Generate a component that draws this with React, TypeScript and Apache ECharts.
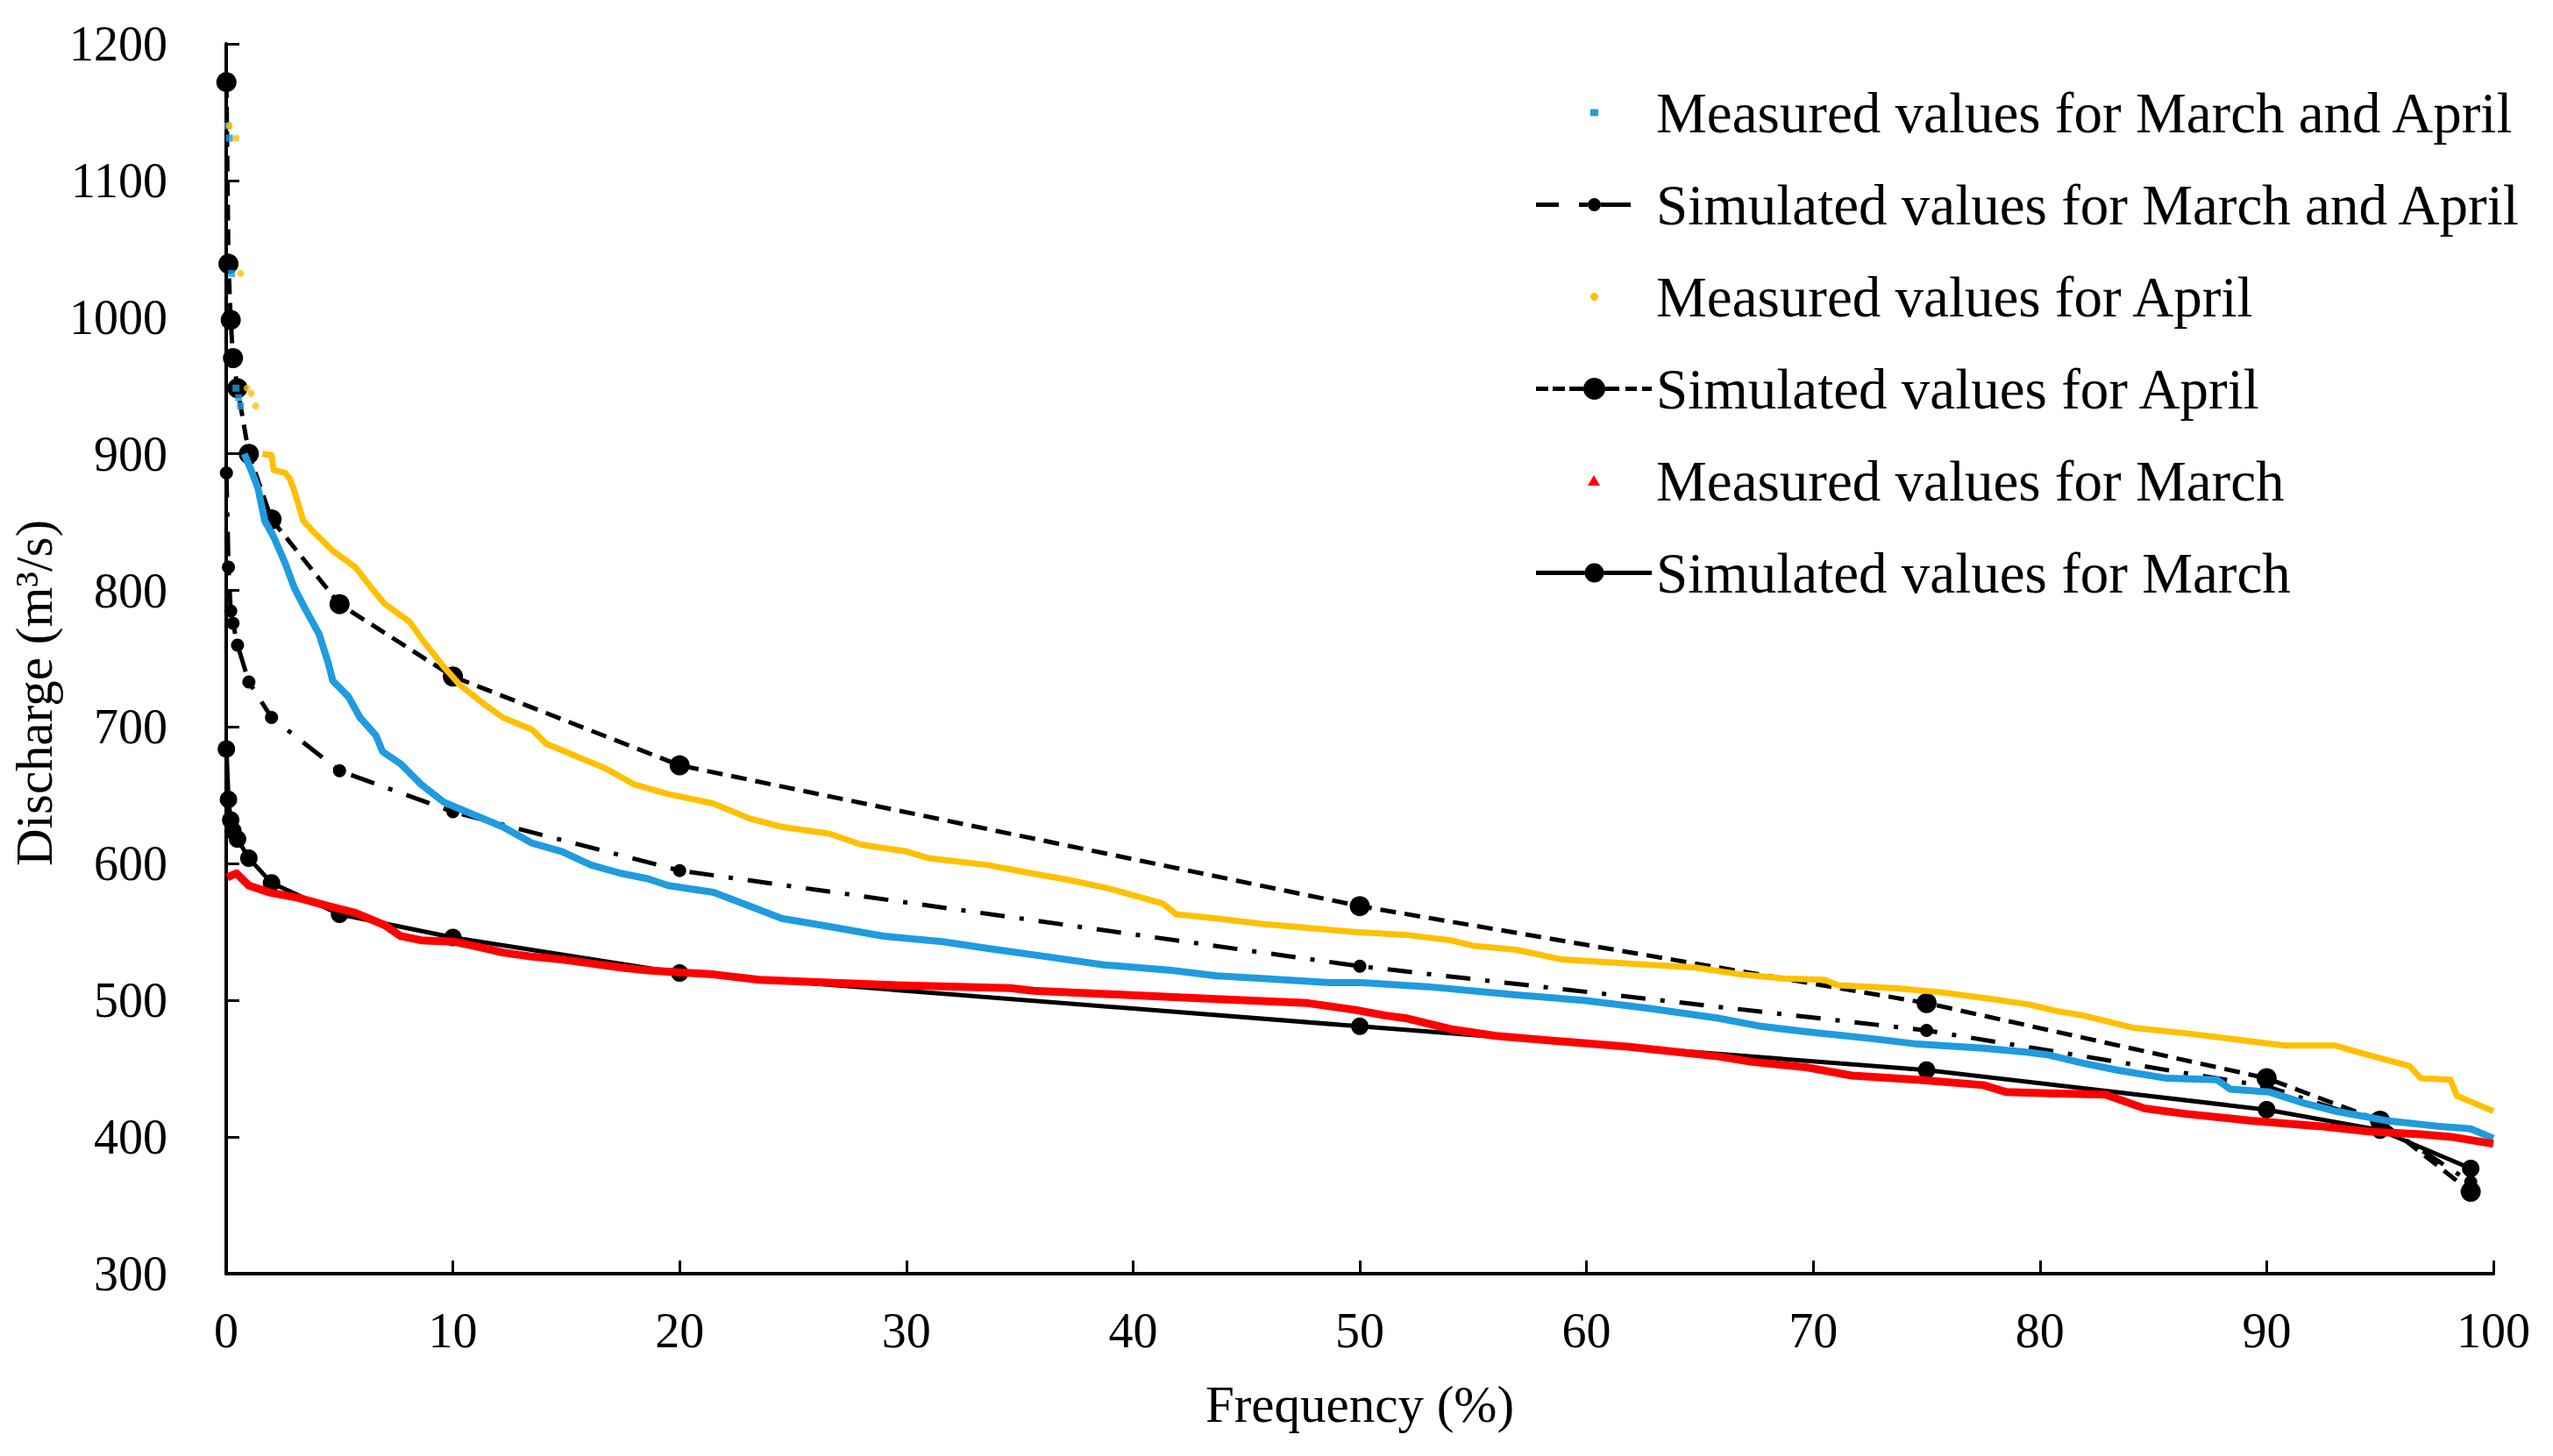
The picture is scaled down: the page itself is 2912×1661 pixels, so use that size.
import React, { useEffect, useRef } from "react";
import * as echarts from "echarts";

const FONT = "'Liberation Serif', 'Times New Roman', serif";

const seriesNames = [
  "Measured values for March and April",
  "Simulated values for March and April",
  "Measured values for April",
  "Simulated values for April",
  "Measured values for March",
  "Simulated values for March",
];

// Simulated flow duration curves (frequency %, discharge m3/s)
const simFrequency = [0.01, 0.1, 0.2, 0.3, 0.5, 1, 2, 5, 10, 20, 50, 75, 90, 95, 99];
const simMarchApril = [886, 817, 785, 776, 760, 733, 707, 668, 638, 595, 525, 478, 437, 410, 367];
const simApril = [1172, 1039, 998, 970, 948, 900, 852, 790, 737, 672, 569, 498, 443, 412, 360];
const simMarch = [684, 647, 632, 624, 618, 604, 586, 563, 546, 520, 481, 449, 420, 405, 377];

const measuredMarchAprilSparse: [number, number][] = [
  [0.08, 1140], [0.14, 1131], [0.24, 1032], [0.43, 948], [0.55, 941], [0.63, 935],
];
const measuredMarchApril: [number, number][] = [
  [0.8, 900], [1.1, 888], [1.4, 875], [1.7, 851], [2.1, 839], [2.6, 820], [3.0, 802],
  [3.5, 786], [4.1, 768], [4.5, 747], [4.7, 734], [5.4, 722], [5.9, 707], [6.6, 694],
  [6.9, 682], [7.7, 673], [8.6, 658], [9.6, 645], [10.9, 636], [12.2, 627], [13.5, 615],
  [14.8, 609], [16.1, 599], [17.4, 593], [18.6, 589], [19.5, 584], [21.5, 579], [23.1, 569],
  [24.5, 560], [26.6, 554], [29.0, 547], [31.6, 543], [33.6, 538], [36.6, 531], [38.7, 526],
  [41.7, 522], [43.7, 518], [45.7, 516], [48.7, 513], [50.1, 513], [53.0, 510], [56.9, 504],
  [59.9, 500], [62.8, 494], [65.8, 487], [67.7, 481], [69.7, 477], [72.6, 472], [74.6, 468],
  [77.5, 465], [79.5, 462], [80.4, 460], [81.9, 454], [83.4, 449], [85.6, 443], [87.8, 442],
  [88.4, 435], [90.1, 433], [91.6, 425], [93.0, 419], [95.3, 412], [97.5, 408], [99.0, 406],
  [100, 399],
];
const measuredAprilSparse: [number, number][] = [
  [0.14, 1140], [0.43, 1131], [0.63, 1032], [0.92, 948], [1.1, 944], [1.3, 935],
];
const measuredApril: [number, number][] = [
  [1.6, 900], [2.0, 899], [2.1, 888], [2.6, 886], [2.8, 882], [3.0, 873], [3.4, 851],
  [3.9, 842], [4.7, 829], [5.7, 817], [6.4, 802], [7.0, 790], [8.1, 777], [8.6, 765],
  [9.6, 744], [10.3, 731], [11.2, 719], [12.2, 707], [13.5, 698], [14.1, 688], [15.4, 679],
  [16.7, 670], [18.0, 658], [19.5, 651], [21.5, 644], [23.1, 633], [24.5, 627], [26.6, 622],
  [28.0, 614], [30.0, 609], [31.0, 604], [33.6, 599], [35.2, 594], [37.2, 588], [38.9, 582],
  [41.3, 571], [41.9, 563], [43.7, 560], [45.7, 556], [47.7, 553], [49.8, 550], [52.0, 548],
  [54.0, 544], [55.0, 540], [56.9, 537], [58.9, 530], [61.9, 527], [64.8, 524], [66.8, 519],
  [68.7, 516], [70.5, 515], [71.1, 511], [73.6, 509], [75.6, 506], [77.9, 501], [79.5, 497],
  [80.8, 492], [81.9, 489], [84.1, 480], [86.4, 476], [89.3, 470], [90.8, 467], [93.0, 467],
  [94.5, 460], [96.3, 452], [96.8, 443], [98.1, 442], [98.4, 430], [99.7, 421], [100, 419],
];
const measuredMarch: [number, number][] = [
  [0.05, 590], [0.45, 593], [1.0, 584], [1.9, 579], [3.2, 575], [4.5, 569], [5.7, 564],
  [7.0, 555], [7.7, 547], [8.6, 544], [10, 543], [10.9, 540], [12.2, 535], [13.5, 532],
  [14.8, 530], [16.1, 527], [17.4, 524], [18.6, 522], [19.5, 521], [21.5, 519], [23.5, 515],
  [26.6, 513], [29.6, 511], [34.6, 509], [35.6, 507], [39.7, 504], [43.7, 501], [47.7, 498],
  [49.8, 493], [51.1, 489], [52.0, 487], [54.0, 479], [56.0, 474], [58.9, 470], [61.9, 466],
  [65.8, 459], [67.3, 455], [69.7, 451], [71.7, 445], [74.6, 442], [77.5, 438], [78.5, 433],
  [80.4, 432], [82.9, 431], [84.6, 421], [86.4, 417], [89.3, 412], [92.3, 408], [94.5, 404],
  [96.8, 402], [98.2, 400], [100, 395],
];

const BLUE = "#1F9BDE";
const YELLOW = "#FFC000";
const RED = "#FF0000";
const BLACK = "#000000";

// Legend icons (132 x 30 box)
const BOX = "M0,0M132,30";
const circ = (cx: number, r: number) =>
  `M${cx - r},15a${r} ${r} 0 1 0 ${2 * r} 0a${r} ${r} 0 1 0 ${-2 * r} 0z`;
const bar = (x0: number, x1: number) => `M${x0},12.5H${x1}V17.5H${x0}z`;
const iconBlue = `path://${BOX}M62,11h9v8h-9z`;
const iconYellow = `path://${BOX}${circ(66.5, 4.5)}`;
const iconRed = `path://${BOX}M66,8.5L73,20.5H59Z`;
const iconSimMA = `path://${BOX}${bar(0, 26)}${bar(49, 59)}${circ(66.5, 7.5)}${bar(74, 108)}`;
const iconSimApril = `path://${BOX}${bar(0, 14)}${bar(19, 33)}${bar(38, 54)}${circ(66.5, 12.5)}${bar(79, 95)}${bar(102, 115)}${bar(121, 132)}`;
const iconSimMarch = `path://${BOX}${bar(0, 55.5)}${circ(66.5, 11)}${bar(77.5, 132)}`;

const zip = (xs: number[], ys: number[]) => xs.map((x, i) => [x, ys[i]]);

function buildOption(): any {
  return {
    animation: false,
    backgroundColor: "#ffffff",
    grid: { left: 258, right: 68, top: 50, bottom: 208, containLabel: false },
    legend: {
      orient: "vertical",
      left: 1747,
      top: 91,
      itemWidth: 132,
      itemHeight: 30,
      itemGap: 40,
      selectedMode: false,
      textStyle: { fontFamily: FONT, fontSize: 65, color: BLACK },
      data: [
        { name: seriesNames[0], icon: iconBlue },
        { name: seriesNames[1], icon: iconSimMA },
        { name: seriesNames[2], icon: iconYellow },
        { name: seriesNames[3], icon: iconSimApril },
        { name: seriesNames[4], icon: iconRed },
        { name: seriesNames[5], icon: iconSimMarch },
      ],
    },
    xAxis: {
      type: "value",
      min: 0,
      max: 100,
      interval: 10,
      name: "Frequency (%)",
      nameLocation: "middle",
      nameGap: 119,
      nameTextStyle: { fontFamily: FONT, fontSize: 59, color: BLACK },
      axisLine: { show: true, lineStyle: { color: BLACK, width: 4 } },
      axisTick: { show: true, inside: true, length: 15, lineStyle: { color: BLACK, width: 3 } },
      axisLabel: { margin: 37, fontFamily: FONT, fontSize: 56, color: BLACK },
      splitLine: { show: false },
    },
    yAxis: {
      type: "value",
      min: 300,
      max: 1200,
      interval: 100,
      name: "Discharge (m³/s)",
      nameLocation: "middle",
      nameGap: 170,
      nameTextStyle: { fontFamily: FONT, fontSize: 59, color: BLACK, padding: [0, 78, 0, 0] },
      axisLine: { show: true, lineStyle: { color: BLACK, width: 4 } },
      axisTick: { show: true, inside: true, length: 15, lineStyle: { color: BLACK, width: 3 } },
      axisLabel: {
        margin: 67,
        fontFamily: FONT,
        fontSize: 56,
        color: BLACK,
        formatter: (v: number) => String(v),
      },
      splitLine: { show: false },
    },
    series: [
      {
        name: seriesNames[0],
        type: "line",
        data: measuredMarchApril,
        showSymbol: false,
        symbol: "none",
        itemStyle: { color: BLUE },
        lineStyle: { color: BLUE, width: 8, join: "round" },
        z: 3,
      },
      {
        name: seriesNames[0],
        type: "scatter",
        data: measuredMarchAprilSparse,
        symbol: "rect",
        symbolSize: 8,
        itemStyle: { color: BLUE },
        z: 3,
      },
      {
        name: seriesNames[1],
        type: "line",
        data: zip(simFrequency, simMarchApril),
        symbol: "circle",
        symbolSize: 15,
        itemStyle: { color: BLACK },
        lineStyle: { color: BLACK, width: 5, type: [28, 17, 5, 17] },
        z: 2,
      },
      {
        name: seriesNames[2],
        type: "line",
        data: measuredApril,
        showSymbol: false,
        symbol: "none",
        itemStyle: { color: YELLOW },
        lineStyle: { color: YELLOW, width: 7, join: "round" },
        z: 3,
      },
      {
        name: seriesNames[2],
        type: "scatter",
        data: measuredAprilSparse,
        symbol: "circle",
        symbolSize: 8,
        itemStyle: { color: YELLOW },
        z: 3,
      },
      {
        name: seriesNames[3],
        type: "line",
        data: zip(simFrequency, simApril),
        symbol: "circle",
        symbolSize: 23,
        itemStyle: { color: BLACK },
        lineStyle: { color: BLACK, width: 5, type: [18, 10] },
        z: 2,
      },
      {
        name: seriesNames[4],
        type: "line",
        data: measuredMarch,
        showSymbol: false,
        symbol: "none",
        itemStyle: { color: RED },
        lineStyle: { color: RED, width: 9, join: "round" },
        z: 3,
      },
      {
        name: seriesNames[5],
        type: "line",
        data: zip(simFrequency, simMarch),
        symbol: "circle",
        symbolSize: 20,
        itemStyle: { color: BLACK },
        lineStyle: { color: BLACK, width: 5 },
        z: 2,
      },
    ],
  };
}

export default function App() {
  const ref = useRef<HTMLDivElement>(null);
  useEffect(() => {
    document.body.style.margin = "0";
    const chart = echarts.init(ref.current as HTMLDivElement, undefined, { renderer: "svg" });
    chart.setOption(buildOption());
    return () => {
      chart.dispose();
    };
  }, []);
  return (
    <div
      ref={ref}
      style={{ position: "fixed", left: 0, top: 0, width: 2912, height: 1661, background: "#ffffff" }}
    />
  );
}
